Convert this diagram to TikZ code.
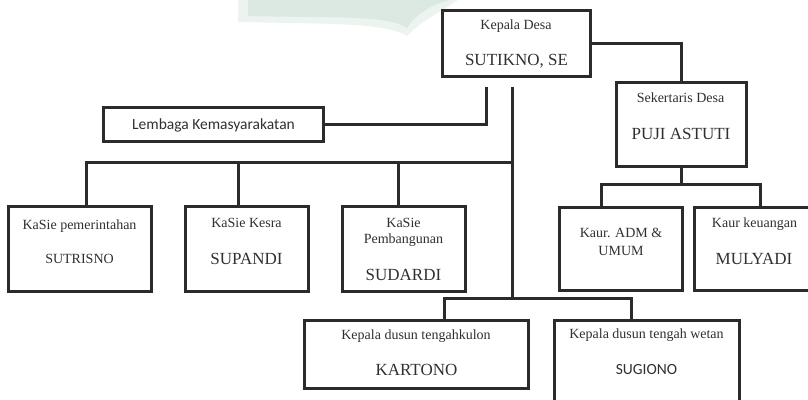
\documentclass[tikz,border=0pt]{standalone}
\usepackage{fontspec}
\setmainfont{Liberation Serif}
\newfontfamily\calfont{Carlito}
\definecolor{lc}{HTML}{2B2B2B}
\definecolor{tc}{HTML}{303030}
\definecolor{wm}{HTML}{DCE9E2}
\definecolor{wm2}{HTML}{EDF4F0}
\tikzset{
  box/.style={draw=lc, line width=3pt, inner sep=0pt, minimum width=#1},
  conn/.style={draw=lc, line width=3pt, line cap=rect, line join=miter},
  lab/.style={text=tc, inner sep=0pt, anchor=base},
  fs/.style={font=\fontsize{#1}{#1}\selectfont}
}
\begin{document}
\begin{tikzpicture}[x=1pt,y=-1pt]
\clip (0,0) rectangle (808,399);
\fill[white] (0,0) rectangle (808,399);
% faint watermark
\fill[wm2] (238,0) -- (238,22) .. controls (320,24) and (385,22) .. (407,36)
  .. controls (420,22) and (440,12) .. (458,0) -- cycle;
\fill[wm] (248,0) -- (248,16) .. controls (330,18) and (390,15) .. (407,28)
  .. controls (415,15) and (430,5) .. (450,0) -- cycle;

% boxes
\node[box=148pt, minimum height=66pt] (kd) at (516,43) {};
\node[box=130pt, minimum height=84pt] (sd) at (681,124) {};
\node[box=220pt, minimum height=34pt] (lk) at (213,124) {};
\node[box=143pt, minimum height=85pt] (ks1) at (79.5,248.5) {};
\node[box=123pt, minimum height=85pt] (ks2) at (246.5,248.5) {};
\node[box=123pt, minimum height=85pt] (ks3) at (403.5,248.5) {};
\node[box=123pt, minimum height=83pt] (ka) at (620.5,248.5) {};
\node[box=121pt, minimum height=83pt] (kk) at (755,248.5) {};
\node[box=224pt, minimum height=68pt] (d1) at (416,354) {};
\node[box=185pt, minimum height=90pt] (d2) at (646.5,365) {};

% labels
\node[lab, fs=14] (t1) at (516,29) {Kepala Desa};
\node[lab, fs=17] (t2) at (516.5,65) {SUTIKNO, SE};
\node[lab, fs=14] (t3) at (680.5,102) {Sekertaris Desa};
\node[lab, fs=17] (t4) at (681,139) {PUJI ASTUTI};
\node[lab, font=\calfont\fontsize{15.5}{15.5}\selectfont] (t5) at (213.5,129) {Lembaga Kemasyarakatan};
\node[lab, fs=14] (t6) at (79.5,229) {KaSie pemerintahan};
\node[lab, fs=14] (t7) at (79.5,263) {SUTRISNO};
\node[lab, fs=14] (t8) at (246.5,227) {KaSie Kesra};
\node[lab, fs=17] (t9) at (246.5,264) {SUPANDI};
\node[lab, fs=14] (t10) at (403.5,227) {KaSie};
\node[lab, fs=14] (t11) at (403.5,243) {Pembangunan};
\node[lab, fs=17] (t12) at (403.5,280) {SUDARDI};
\node[lab, fs=14] (t13) at (621,237) {Kaur. ADM \&};
\node[lab, fs=14] (t14) at (621,255) {UMUM};
\node[lab, fs=14] (t15) at (754.5,227) {Kaur keuangan};
\node[lab, fs=17] (t16) at (754,264) {MULYADI};
\node[lab, fs=14] (t17) at (416,339) {Kepala dusun tengahkulon};
\node[lab, fs=17] (t18) at (416.5,375) {KARTONO};
\node[lab, fs=14] (t19) at (646.5,338) {Kepala dusun tengah wetan};
\node[lab, font=\calfont\fontsize{15.5}{15.5}\selectfont] (t20) at (646.5,374) {SUGIONO};

% connectors
\coordinate (sb) at (681,184);
\coordinate (c1) at (486,88);
\coordinate (c2) at (512,88);
\coordinate (kb) at (512,162);
\coordinate (db) at (512,298);
\draw[conn] (kd.east) -| (sd.north);
\draw[conn] (sd.south) -- (sb);
\draw[conn] ([xshift=43.5pt]ka.north west) |- (sb) -| ([xshift=67.5pt]kk.north west);
\draw[conn] (c1) |- (lk.east);
\draw[conn] (c2) -- (db);
\draw[conn] ([xshift=80pt]ks1.north west) |- (kb);
\draw[conn] ([xshift=55pt]ks2.north west) |- (kb);
\draw[conn] ([xshift=58pt]ks3.north west) |- (kb);
\draw[conn] ([xshift=142pt]d1.north west) |- (db) -| ([xshift=79pt]d2.north west);
\end{tikzpicture}
\end{document}
